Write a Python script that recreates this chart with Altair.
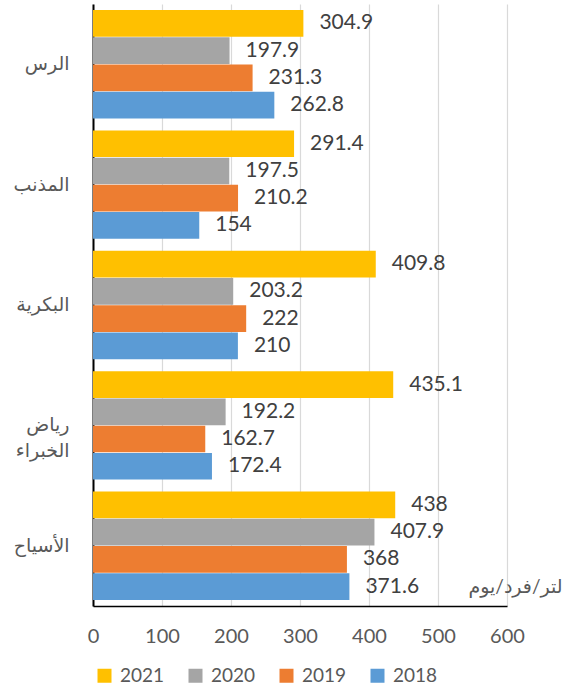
import altair as alt
import pandas as pd

cities = ["الرس", "المذنب", "البكرية", "رياض الخبراء", "الأسياح"]
years = ["2021", "2020", "2019", "2018"]
v2021 = [304.9, 291.4, 409.8, 435.1, 438]
v2020 = [197.9, 197.5, 203.2, 192.2, 407.9]
v2019 = [231.3, 210.2, 222, 162.7, 368]
v2018 = [262.8, 154, 210, 172.4, 371.6]
colors = ["#FFC000", "#A5A5A5", "#ED7D31", "#5B9BD5"]
x_ticks = [0, 100, 200, 300, 400, 500, 600]
unit_label = "لتر/فرد/يوم"

rows = []
for yr, vals in zip(years, [v2021, v2020, v2019, v2018]):
    for c, v in zip(cities, vals):
        rows.append({"city": c, "year": yr, "value": v})
df = pd.DataFrame(rows)

FONT = "Lato, 'DejaVu Sans', sans-serif"

y_enc = alt.Y(
    "city:N", sort=cities,
    scale=alt.Scale(paddingInner=0.1, paddingOuter=0.05),
    axis=alt.Axis(title=None, ticks=False, domainColor="black", domainWidth=2,
                  labelFontSize=19, labelColor="#595959", labelPadding=24,
                  labelExpr="split(datum.label, ' ')", labelLineHeight=26,
                  labelFont=FONT),
)
yoff = alt.YOffset("year:N", sort=years, scale=alt.Scale(paddingInner=0.02))
x_enc = alt.X(
    "value:Q", scale=alt.Scale(domain=[0, 600]),
    axis=alt.Axis(values=x_ticks, title=unit_label, titleX=469, titleY=-20,
                  titleAlign="right", titleBaseline="middle", titleFontSize=19,
                  titleFontWeight="normal", titleColor="#595959", titleFont=FONT,
                  grid=True, gridColor="#D9D9D9", gridWidth=1.2, ticks=False,
                  labelFontSize=20, labelColor="#595959", labelPadding=20,
                  labelFlush=False, labelFont=FONT, domainColor="black",
                  domainWidth=1.5),
)

base = alt.Chart(df)
bars = base.mark_bar().encode(
    x=x_enc, y=y_enc, yOffset=yoff,
    color=alt.Color(
        "year:N", sort=years,
        scale=alt.Scale(domain=years, range=colors),
        legend=alt.Legend(orient="none", legendX=2, legendY=662, direction="horizontal",
                          title=None, symbolType="square", symbolSize=196,
                          symbolStrokeWidth=0, labelFontSize=19, labelColor="#595959",
                          labelFont=FONT, columnPadding=21, labelOffset=6),
    ),
)
labels = base.mark_text(align="left", baseline="middle", dx=16, fontSize=21,
                        color="#404040", font=FONT).encode(
    x="value:Q", y=alt.Y("city:N", sort=cities), yOffset=yoff, text="value:Q"
)

chart = (bars + labels).properties(
    width=414, height=602,
    autosize=alt.AutoSizeParams(type="none"),
    padding={"left": 93, "top": 4, "right": 59, "bottom": 82},
).configure_view(stroke=None)

chart.save("out.html", embed_options={"renderer": "svg", "actions": False})
